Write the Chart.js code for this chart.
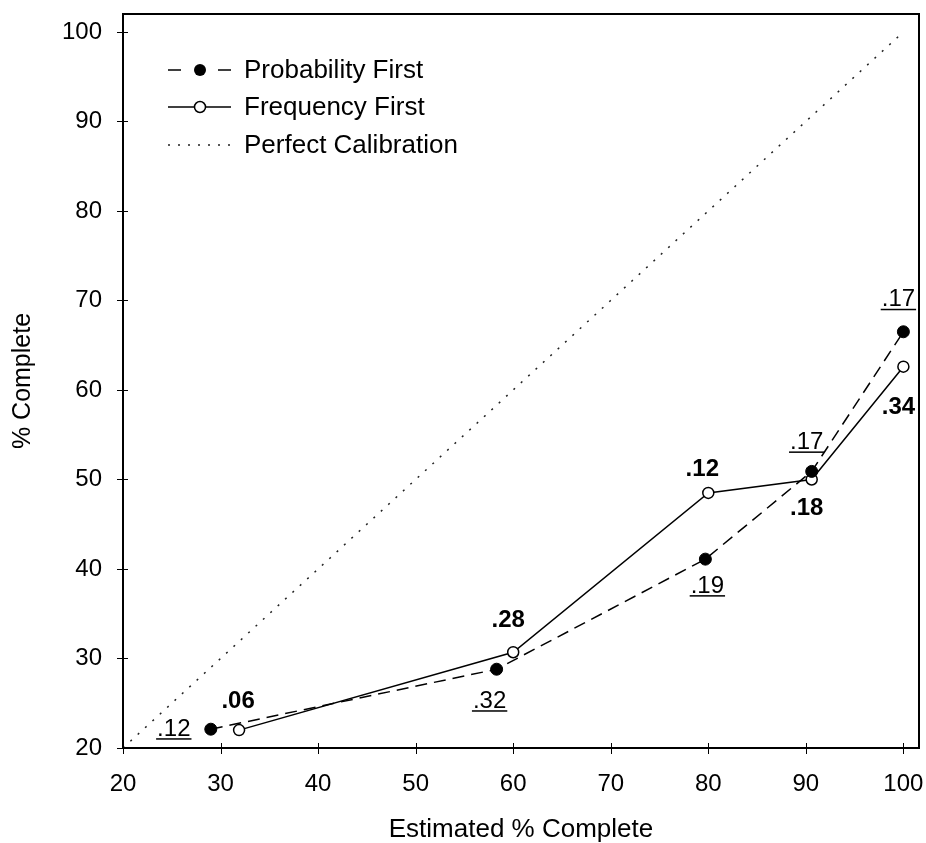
<!DOCTYPE html>
<html>
<head>
<meta charset="utf-8">
<script src="https://cdn.jsdelivr.net/npm/chart.js@4"></script>
<style>
  html, body { margin: 0; padding: 0; background: #fff; }
  #wrap { width: 926px; height: 843px; }
</style>
</head>
<body>
<div id="wrap"><canvas id="calib"></canvas></div>
<script>
// values
const seriesNames = ['Probability First', 'Frequency First', 'Perfect Calibration'];
const probX = [29, 58.3, 79.7, 90.6, 100];
const probY = [22.1, 28.8, 41.1, 50.9, 66.5];
const freqX = [31.9, 60, 80, 90.6, 100];
const freqY = [22.0, 30.7, 48.5, 50.0, 62.6];
const perfectX = [20, 100];
const perfectY = [20, 100];
const probLabels = ['.12', '.32', '.19', '.17', '.17'];
const freqLabels = ['.06', '.28', '.12', '.18', '.34'];
const xTicks = [20, 30, 40, 50, 60, 70, 80, 90, 100];
const yTicks = [20, 30, 40, 50, 60, 70, 80, 90, 100];
const xTitle = 'Estimated % Complete';
const yTitle = '% Complete';

const FONT = 'Arial, "Liberation Sans", sans-serif';

function pts(xs, ys) {
  return xs.map((x, i) => ({ x: x, y: ys[i] }));
}

// where each proportion label sits relative to its point (px)
const probOffsets = [[-37, 0], [-7, 32], [2, 27], [-5, -29], [-5, -32]];
const freqOffsets = [[-1, -29], [-5, -32], [-6, -24], [-5, 29], [-5, 41]];

function drawLabels(chart, dsIndex, labels, offsets, bold) {
  const ctx = chart.ctx;
  const meta = chart.getDatasetMeta(dsIndex);
  ctx.save();
  ctx.fillStyle = '#000';
  ctx.font = (bold ? 'bold ' : '') + '24px ' + FONT;
  ctx.textAlign = 'center';
  ctx.textBaseline = 'middle';
  meta.data.forEach((pt, i) => {
    const x = pt.x + offsets[i][0];
    const y = pt.y + offsets[i][1];
    ctx.fillText(labels[i], x, y);
    if (!bold) {
      const w = ctx.measureText(labels[i]).width;
      ctx.fillRect(x - w / 2 - 1, y + 9, w + 2, 1.5);
    }
  });
  ctx.restore();
}

const framePlugin = {
  id: 'frame',
  afterDraw(chart) {
    const ctx = chart.ctx;
    const a = chart.chartArea;
    const xs = chart.scales.x, ys = chart.scales.y;
    ctx.save();
    ctx.strokeStyle = '#000';
    ctx.lineWidth = 2;
    ctx.strokeRect(a.left, a.top, a.right - a.left, a.bottom - a.top);
    // tick marks crossing the axes
    ctx.lineWidth = 1;
    ctx.beginPath();
    xTicks.forEach(v => {
      const px = Math.round(xs.getPixelForValue(v)) + 0.5;
      ctx.moveTo(px, a.bottom - 5);
      ctx.lineTo(px, a.bottom + 6);
    });
    yTicks.forEach(v => {
      const py = Math.round(ys.getPixelForValue(v)) + 0.5;
      ctx.moveTo(a.left - 6, py);
      ctx.lineTo(a.left + 5, py);
    });
    ctx.stroke();
    ctx.restore();

    drawLabels(chart, 0, probLabels, probOffsets, false);
    drawLabels(chart, 1, freqLabels, freqOffsets, true);

    // legend in the upper left of the plot
    const lx0 = 168, lx1 = 231, mx = 200, tx = 244;
    const rows = [70, 107, 145];
    ctx.save();
    ctx.strokeStyle = '#000';
    ctx.fillStyle = '#000';
    ctx.lineWidth = 1.5;
    // dashed with filled dot
    ctx.beginPath();
    ctx.moveTo(lx0, rows[0]); ctx.lineTo(lx0 + 13, rows[0]);
    ctx.moveTo(lx1 - 13, rows[0]); ctx.lineTo(lx1, rows[0]);
    ctx.stroke();
    ctx.beginPath();
    ctx.arc(mx, rows[0], 6, 0, Math.PI * 2);
    ctx.fill();
    // solid with open dot
    ctx.beginPath();
    ctx.moveTo(lx0, rows[1]); ctx.lineTo(lx1, rows[1]);
    ctx.stroke();
    ctx.beginPath();
    ctx.arc(mx, rows[1], 5.5, 0, Math.PI * 2);
    ctx.fillStyle = '#fff';
    ctx.fill();
    ctx.stroke();
    ctx.fillStyle = '#000';
    // dotted
    ctx.setLineDash([2, 8]);
    ctx.strokeStyle = '#222';
    ctx.beginPath();
    ctx.moveTo(lx0, rows[2]); ctx.lineTo(lx1, rows[2]);
    ctx.stroke();
    ctx.setLineDash([]);
    ctx.font = '26px ' + FONT;
    ctx.textAlign = 'left';
    ctx.textBaseline = 'middle';
    seriesNames.forEach((name, i) => ctx.fillText(name, tx, rows[i] + 1));
    ctx.restore();
  }
};

new Chart(document.getElementById('calib'), {
  type: 'scatter',
  data: {
    datasets: [
      {
        label: seriesNames[0],
        data: pts(probX, probY),
        showLine: true,
        borderColor: '#000',
        borderWidth: 1.5,
        borderDash: [12, 7],
        pointRadius: 6,
        pointBackgroundColor: '#000',
        pointBorderColor: '#000',
        pointBorderWidth: 1
      },
      {
        label: seriesNames[1],
        data: pts(freqX, freqY),
        showLine: true,
        borderColor: '#000',
        borderWidth: 1.5,
        pointRadius: 5.5,
        pointBackgroundColor: '#fff',
        pointBorderColor: '#000',
        pointBorderWidth: 1.5
      },
      {
        label: seriesNames[2],
        data: pts(perfectX, perfectY),
        showLine: true,
        borderColor: '#222',
        borderWidth: 1.5,
        borderDash: [2, 8],
        pointRadius: 0
      }
    ]
  },
  options: {
    responsive: true,
    maintainAspectRatio: false,
    animation: false,
    events: [],
    layout: { padding: { top: 14, right: 6, left: 0, bottom: 0 } },
    plugins: {
      legend: { display: false },
      tooltip: { enabled: false }
    },
    scales: {
      x: {
        type: 'linear',
        min: 20,
        max: 101.6,
        afterBuildTicks: s => { s.ticks = xTicks.map(v => ({ value: v })); },
        afterFit: s => { s.height = 95; s.paddingLeft = 0; s.paddingRight = 0; },
        grid: { display: false, drawTicks: false },
        border: { display: false },
        ticks: { color: '#000', font: { size: 24, family: FONT }, padding: 22, maxRotation: 0 },
        title: {
          display: true, text: xTitle, color: '#000',
          font: { size: 26, family: FONT, lineHeight: 1 },
          padding: { top: 0, bottom: 0 }
        }
      },
      y: {
        type: 'linear',
        min: 20,
        max: 102,
        afterBuildTicks: s => { s.ticks = yTicks.map(v => ({ value: v })); },
        afterFit: s => { s.width = 123; s.paddingTop = 0; s.paddingBottom = 0; },
        grid: { display: false, drawTicks: false },
        border: { display: false },
        ticks: { color: '#000', font: { size: 24, family: FONT }, padding: 21 },
        title: {
          display: true, text: yTitle, color: '#000',
          font: { size: 25, family: FONT, lineHeight: 1.2 },
          padding: { top: 8, bottom: 0 }
        }
      }
    }
  },
  plugins: [framePlugin]
});
</script>
</body>
</html>
